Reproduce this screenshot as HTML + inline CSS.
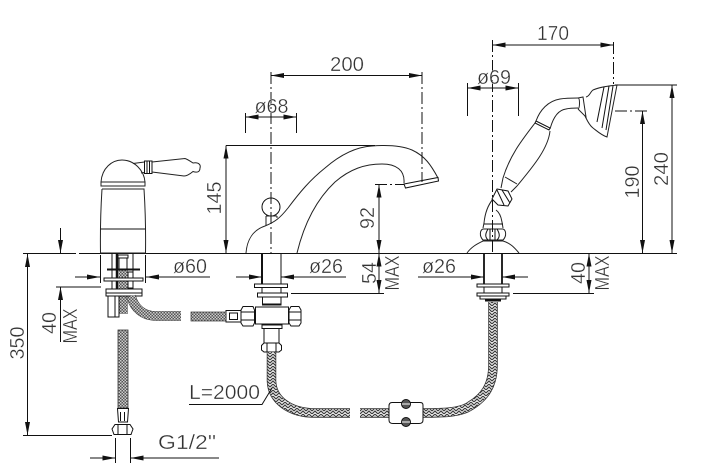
<!DOCTYPE html>
<html><head><meta charset="utf-8"><style>
html,body{margin:0;padding:0;background:#fff;width:707px;height:476px;overflow:hidden}
svg{display:block}
text{font-family:"Liberation Sans",sans-serif;font-size:20px;fill:#333;stroke:#fff;stroke-width:.35;paint-order:normal;text-anchor:middle;dominant-baseline:central}
.l{fill:none;stroke:#111;stroke-width:1}
.d{fill:none;stroke:#111;stroke-width:1;stroke-dasharray:12 3 2 3}
.a{fill:none;stroke:#111;stroke-width:1;marker-end:url(#m)}
.b{fill:none;stroke:#111;stroke-width:1;marker-start:url(#m);marker-end:url(#m)}
.s{fill:#fff;stroke:#111;stroke-width:1}
.o{fill:none;stroke:#222;stroke-width:1}
.h{fill:none;stroke:url(#br);stroke-width:8.500}
.w{fill:none;stroke:url(#hb);stroke-width:8}
.e{fill:none;stroke:#333;stroke-width:9.500}
</style></head><body>
<svg width="707" height="476" viewBox="0 0 707 476" xmlns="http://www.w3.org/2000/svg">
<defs>
<marker id="m" markerUnits="userSpaceOnUse" markerWidth="14" markerHeight="8" refX="13" refY="3.5" orient="auto-start-reverse"><path d="M0 1 L13 3.5 L0 6 Z" fill="#111"/></marker>
<pattern id="br" width="3" height="3" patternUnits="userSpaceOnUse"><rect width="3" height="3" fill="#555"/><rect width="1.5" height="1.5" fill="#ccc"/><rect x="1.5" y="1.5" width="1.5" height="1.5" fill="#ccc"/></pattern>
<pattern id="hb" width="6" height="6" patternUnits="userSpaceOnUse"><rect width="6" height="6" fill="#e6e6e6"/><path d="M0 6L3 3L6 6M0 3L3 0L6 3" fill="none" stroke="#333" stroke-width="1"/></pattern>
</defs>

<!-- baseline -->
<path class="l" d="M23 253.500H76M79 253.500H677"/>

<!-- left mixer -->
<path class="o" d="M101 182C102 168 112 160 122 160C134 160 144 170 145 182"/>
<path class="o" d="M101 182H145V186H101ZM102 189H144.500"/>
<path class="o" d="M102 189C101 205 100 220 100.500 253H145.500C146 220 145 205 144 189"/>
<path class="l" d="M100.500 229H145.500"/>
<path class="o" d="M133 163.500L144.500 162M141 173L144.500 172.500"/>
<rect class="s" x="144.500" y="161" width="7.500" height="12.500"/>
<path class="l" d="M147 161V173.500M149.500 161V173.500"/>
<path class="o" d="M152 162L185 158.500C187 159 190 161 193 163C199 162 201 165 200 168C200 172 197 173 193 171.500C190 174 187 176 184 176L152 172"/>

<path class="l" d="M100.500 255V283M145.500 255V283"/>
<path class="a" d="M75 277H100"/><path class="a" d="M210 277H146"/>
<path class="l" d="M112 253V296M133 253V296"/>
<path fill="none" stroke="#111" stroke-width="2.500" d="M117 253V296"/>
<rect fill="url(#br)" x="118" y="270" width="10" height="44"/>
<rect class="s" x="118" y="255" width="10" height="3"/>
<rect class="s" x="119" y="258" width="8" height="11"/>
<rect class="s" x="128" y="272" width="5" height="16"/>
<path fill="none" stroke="#111" stroke-width="2" d="M107 269.500H140"/>
<rect class="s" x="104" y="278" width="39" height="3"/>
<rect class="s" x="106" y="289" width="36" height="7"/>
<path class="l" d="M106 293H142"/>
<rect class="s" x="108" y="296" width="11" height="21"/>
<path class="l" d="M115 296V317"/>
<path class="e" d="M131 296C134 308 143 316 156 316H181"/>
<path class="h" d="M131 296C134 308 143 316 156 316H181"/>

<!-- left lower hose -->
<rect x="118" y="330" width="10" height="78" fill="url(#br)" stroke="#333" stroke-width=".8"/>
<path class="s" d="M117.500 408.500H128.500L127.500 422H118.500Z"/>
<path class="l" d="M120.500 412V421M124.500 412V421"/>
<path class="s" d="M115 424.500H130L133 429L131 434.500H114L112 429Z"/>
<path class="l" d="M118 424.500V434.500M127 424.500V434.500"/>
<path class="l" d="M23 435.500H112"/>
<path class="l" d="M115.500 438V463M130.500 438V463"/>
<path class="a" d="M90 458H115.500"/><path class="a" d="M219 458H130.500"/>

<!-- left dims -->
<path class="a" d="M60.500 228V253"/>
<path class="l" d="M56 287H101"/>
<path class="a" d="M60.500 342V287"/>
<path class="b" d="M27.500 254V435"/>

<!-- spout -->
<path class="o" d="M246 253C247 240 253 230 265 226C275 222 280 218 288 208C300 192 310 180 325 168C340 155 355 147 372 146C385 145 400 145 412 150C425 156 431 165 438 178"/>
<path class="o" d="M297 253C305 220 318 198 335 182C350 169 365 164 382 164C396 164 405 170 404 183"/>
<path class="s" d="M404 184L438 177.500L438.500 181L405.500 188Z"/>
<circle class="s" cx="271" cy="207" r="9"/>
<path class="o" d="M266 216V226M277 216V218"/>
<path class="o" d="M266 216H277"/>

<path class="d" d="M271 72V253"/>
<path class="d" d="M422 72V182"/>
<path class="b" d="M271 75.500H422"/>
<path class="l" d="M245.500 113V133M296.500 113V133"/>
<path class="b" d="M245.500 117H296.500"/>
<path class="l" d="M226 145.500H375"/>
<path class="b" d="M226 145.500V253"/>
<path class="d" d="M375 184.500H404"/>
<path class="b" d="M379 184.500V253"/>
<path class="b" d="M379 253.500V293"/>
<path class="l" d="M291 293.500H384"/>

<!-- centre fittings -->
<path fill="none" stroke="#111" stroke-width="2" d="M262 253V284"/>
<path class="l" d="M281 253V284"/>
<path class="a" d="M236 277H262"/><path class="a" d="M346 277H281"/>
<rect class="s" x="254.500" y="284" width="33" height="3.500"/>
<path class="l" d="M262 287.500V293M281 287.500V293"/>
<rect class="s" x="257.500" y="293" width="30" height="4"/>
<rect class="s" x="262.500" y="297" width="18.500" height="8"/>
<path fill="none" stroke="#111" stroke-width="2" d="M263 304.500H281"/>
<rect class="s" x="255.500" y="307" width="33" height="17"/>
<path class="s" d="M243 306.500H253L254.500 310V323L253 326H243L241 323V310Z"/>
<path class="l" d="M241 312H254M241 320H254"/>
<path class="s" d="M291 306.500H299L301 310V323L299 326H291L289 323V310Z"/>
<path class="l" d="M289 312H301M289 320H301"/>
<rect class="s" x="226" y="310.500" width="15" height="11.500"/>
<rect class="l" x="229.500" y="313" width="8" height="6.500"/>
<rect x="191" y="312" width="35" height="9" fill="url(#br)" stroke="#333" stroke-width=".7"/>
<rect class="s" x="262" y="325" width="20" height="3.500"/>
<rect class="s" x="264" y="328.500" width="15" height="14.500"/>
<path class="s" d="M264 343H279L281.500 345.500V350L279 352H264L261.500 350V345.500Z"/>
<path class="l" d="M267 343V352M276 343V352"/>

<path class="e" d="M271.500 352V380C271.500 400 290 413 315 413H350"/>
<path class="w" d="M271.500 352V380C271.500 400 290 413 315 413H350"/>
<path class="l" d="M189 404.500H262L272 388"/>

<!-- clip & hose right -->
<path class="e" d="M360 413H423C440 413 460 413 470 406C485 397 493 385 493 365V302"/>
<path class="w" d="M360 413H423C440 413 460 413 470 406C485 397 493 385 493 365V302"/>
<path class="s" d="M392 402.500H420C423 402.500 423 404 423 406V420C423 423 421 423.500 419 423.500H393C390 423.500 389 422 389 420V406C389 404 390 402.500 392 402.500Z"/>
<circle cx="406" cy="404" r="4.500" fill="#555" stroke="#111"/>
<circle cx="406" cy="422" r="4.500" fill="#555" stroke="#111"/>
<path d="M402 404H410M402 422H410" stroke="#fff" stroke-width="1"/>

<!-- right stem -->
<path fill="none" stroke="#111" stroke-width="1.800" d="M484 253V284M502 253V284"/>
<path class="a" d="M418 277H484"/><path class="a" d="M528 277H502"/>
<rect class="s" x="477" y="284" width="32" height="3"/>
<path class="l" d="M484 287V293M502 287V293"/>
<rect class="s" x="477" y="293" width="32" height="3"/>
<rect class="s" x="480" y="296" width="26" height="3"/>
<path fill="none" stroke="#111" stroke-width="2" d="M485 300.500H501"/>

<!-- hand shower -->
<path class="o" d="M467 253C472 246 479 243 483 241H503C510 243 514 247 519 253"/>
<path class="o" d="M483 240C479 236 480 230 483 229H503C506 230 507 236 503 240Z"/>
<path class="l" d="M488 229C485 234 485 237 488 240M497 229C500 234 500 237 497 240M490 229V240M495 229V240"/>
<path class="o" d="M483 228L484 223C485 213 488 205 493 199M503 228L502 222C501 216 499 212 496 210"/>
<path class="l" d="M484 224H503"/>
<path class="s" d="M497 189L508 191L512 199L508 206L498 205L492 199Z"/>
<path class="l" d="M497 190L504 205M502 190L510 203"/>
<path class="o" d="M503 178L501 188M517 186L511 192"/>
<path class="o" d="M505 177L517 184"/>
<path class="o" d="M503 178C510 155 522 140 535 123M517 186C530 170 548 150 550 131"/>
<path class="s" d="M536 121L550 128L549 130L535 123Z"/>
<path class="o" d="M536 121C540 110 548 101 560 99C566 98 572 98 578 98M550 129C553 118 558 110 566 109C570 108 574 108 578 108"/>
<path class="o" d="M578 98C580 98 580 108 578 109M578 98L583 97L586 117L578 109"/>
<path class="o" d="M586 97C590 96 590 92 593 90C600 87 608 86 617 85L607 137C601 135 597 131 593 128C589 125 587 120 585 116"/>
<path class="l" d="M604 87L597 122M609 86L602 128M613 86L606 130"/>

<path class="d" d="M492.500 40V253"/>
<path class="d" d="M613.500 42V84"/>
<path class="b" d="M492.500 45H613.500"/>
<path class="l" d="M467.500 83V116M518.500 83V116"/>
<path class="b" d="M467.500 88H518.500"/>
<path class="l" d="M615 85H677"/>
<path class="b" d="M672 85V253"/>
<path class="d" d="M615 111H647"/>
<path class="b" d="M642.500 111V253"/>
<path class="b" d="M589 253.500V293"/>
<path class="l" d="M513 293.500H594"/>

<!-- labels -->
<text x="347" y="65" textLength="34" lengthAdjust="spacingAndGlyphs">200</text>
<text x="271.500" y="107" textLength="34" lengthAdjust="spacingAndGlyphs">ø68</text>
<text x="553" y="34" textLength="32" lengthAdjust="spacingAndGlyphs">170</text>
<text x="494" y="78" textLength="34" lengthAdjust="spacingAndGlyphs">ø69</text>
<text x="190" y="267" textLength="34" lengthAdjust="spacingAndGlyphs">ø60</text>
<text x="326" y="267" textLength="34" lengthAdjust="spacingAndGlyphs">ø26</text>
<text x="439" y="267" textLength="34" lengthAdjust="spacingAndGlyphs">ø26</text>
<text x="187" y="443" textLength="58" lengthAdjust="spacingAndGlyphs">G1/2"</text>
<text x="224.500" y="393" textLength="71" lengthAdjust="spacingAndGlyphs">L=2000</text>
<text transform="translate(215 198) rotate(-90)" textLength="33" lengthAdjust="spacingAndGlyphs">145</text>
<text transform="translate(368 218) rotate(-90)" textLength="22" lengthAdjust="spacingAndGlyphs">92</text>
<text transform="translate(370 273) rotate(-90)" textLength="22" lengthAdjust="spacingAndGlyphs">54</text>
<text transform="translate(393 273) rotate(-90)" textLength="35" lengthAdjust="spacingAndGlyphs">MAX</text>
<text transform="translate(579 273) rotate(-90)" textLength="22" lengthAdjust="spacingAndGlyphs">40</text>
<text transform="translate(603 273) rotate(-90)" textLength="35" lengthAdjust="spacingAndGlyphs">MAX</text>
<text transform="translate(633 182) rotate(-90)" textLength="33" lengthAdjust="spacingAndGlyphs">190</text>
<text transform="translate(662 169) rotate(-90)" textLength="34" lengthAdjust="spacingAndGlyphs">240</text>
<text transform="translate(18 343) rotate(-90)" textLength="33" lengthAdjust="spacingAndGlyphs">350</text>
<text transform="translate(50 323) rotate(-90)" textLength="22" lengthAdjust="spacingAndGlyphs">40</text>
<text transform="translate(71 326) rotate(-90)" textLength="35" lengthAdjust="spacingAndGlyphs">MAX</text>
</svg>
</body></html>
